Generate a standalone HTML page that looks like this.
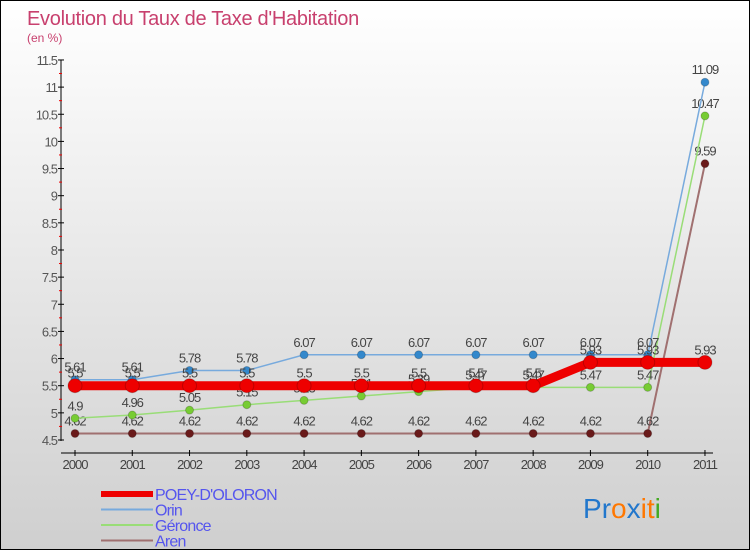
<!DOCTYPE html>
<html><head><meta charset="utf-8"><style>
body{margin:0}
#c{width:748px;height:548px;border:1px solid #000;background:linear-gradient(#fff,#cfcfcf);position:relative;overflow:hidden;font-family:"Liberation Sans",sans-serif}
</style></head><body>
<div id="c">
<svg width="748" height="548" id="s"></svg>
</div>
<script>
const years=['2000','2001','2002','2003','2004','2005','2006','2007','2008','2009','2010','2011'];
const poey=[5.5,5.5,5.5,5.5,5.5,5.5,5.5,5.5,5.5,5.93,5.93,5.93];
const orin=[5.61,5.61,5.78,5.78,6.07,6.07,6.07,6.07,6.07,6.07,6.07,11.09];
const geronce=[4.9,4.96,5.05,5.15,5.23,5.31,5.39,5.47,5.47,5.47,5.47,10.47];
const aren=[4.62,4.62,4.62,4.62,4.62,4.62,4.62,4.62,4.62,4.62,4.62,9.59];
const yTicks=[4.5,5,5.5,6,6.5,7,7.5,8,8.5,9,9.5,10,10.5,11,11.5];
const NS='http://www.w3.org/2000/svg';
const s=document.getElementById('s');
const X=i=>74+i*57.27, Y=v=>439-(v-4.5)*54.29;
function el(t,a,txt){const e=document.createElementNS(NS,t);for(const k in a)e.setAttribute(k,a[k]);if(txt!==undefined)e.textContent=txt;s.appendChild(e);return e;}
const t1=el('text',{x:26,y:24,'font-size':20,fill:'#c8406e','letter-spacing':'-0.3'},"Evolution du Taux de Taxe d'Habitation");

const t2=el('text',{x:26,y:41,'font-size':12,fill:'#c8406e'},"(en %)");

el('line',{x1:60,y1:59,x2:60,y2:440,stroke:'#000'});
el('line',{x1:60,y1:452,x2:712,y2:452,stroke:'#000'});
yTicks.forEach(v=>{const y=Y(v);
 el('line',{x1:57,y1:y,x2:63,y2:y,stroke:'#000'});
 const t=el('text',{x:56,y:y+5,'font-size':13,fill:'#555','text-anchor':'end','letter-spacing':'-1'},String(v));
 
 if(v<11.5)el('line',{x1:58,y1:y-13.6,x2:61,y2:y-13.6,stroke:'#e00'});
});
years.forEach((yr,i)=>{const x=X(i);
 el('line',{x1:x,y1:449,x2:x,y2:455,stroke:'#000'});
 const t=el('text',{x:x,y:468,'font-size':13,fill:'#444','text-anchor':'middle','letter-spacing':'-1'},yr);
 
});
function series(d,col,w,r,dot,name){
 const p=el('polyline',{points:d.map((v,i)=>X(i)+','+Y(v)).join(' '),fill:'none',stroke:col,'stroke-width':w});
 
 d.forEach((v,i)=>{const c=el('circle',{cx:X(i),cy:Y(v),r:r,fill:dot,stroke:'rgba(0,0,0,0.2)'});
  
  const t=el('text',{x:X(i),y:Y(v)-8,'font-size':13,fill:'#444','text-anchor':'middle','letter-spacing':'-1'},String(v));
  });
}
series(aren,'#a07070',2,4,'#6a1a1a','aren');
series(geronce,'#99dd77',1.5,4,'#77cc33','geronce');
series(orin,'#77aadd',1.5,4,'#3388cc','orin');
series(poey,'#ee0000',9,7,'#ee0000','poey');
const leg=[['POEY-D\'OLORON','#ee0000',6],['Orin','#77aadd',2],['Géronce','#99dd77',2],['Aren','#a07070',2]];
leg.forEach((l,i)=>{const y=493+i*15.5;
 const ln=el('line',{x1:100,y1:y,x2:152,y2:y,stroke:l[1],'stroke-width':l[2]});
 
 const t=el('text',{x:154,y:y+6,'font-size':16,fill:'#5555ee','letter-spacing':'-0.8'},l[0]);
 
});
const lg=el('text',{x:582,y:517,'font-size':28},'');

[['P','#2277cc'],['r','#2277cc'],['o','#ff7700'],['x','#2277cc'],['i','#ff7700'],['t','#ff7700'],['i','#44aa22']].forEach(c=>{const ts=document.createElementNS(NS,'tspan');ts.setAttribute('fill',c[1]);ts.textContent=c[0];lg.appendChild(ts);});
</script>
</body></html>
